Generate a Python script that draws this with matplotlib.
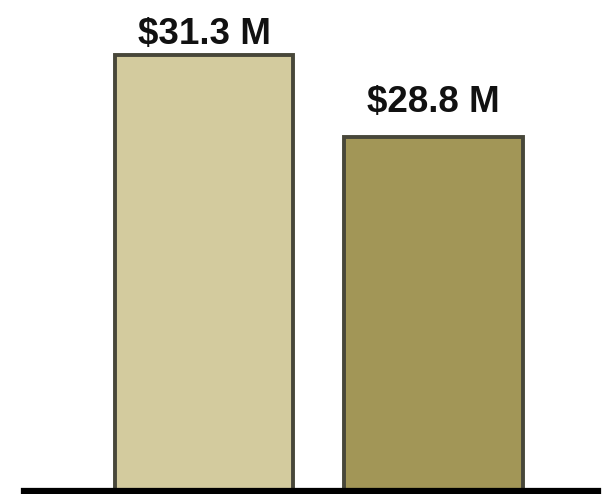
import matplotlib
matplotlib.use("Agg")
import matplotlib.pyplot as plt

# Revenue comparison, two periods (in $ millions)
categories = ["Period 1", "Period 2"]
values = [31.3, 28.8]
labels = ["$31.3 M", "$28.8 M"]

bar_colors = ["#d3cb9e", "#a29657"]
label_offsets_px = [11, 25]

fig = plt.figure(figsize=(6.02, 4.94), dpi=100)
fig.patch.set_facecolor("white")
ax = fig.add_axes([0, 3 / 494, 1, 491 / 494])

x = list(range(len(categories)))
bars = ax.bar(x, values, width=0.776, color=bar_colors,
              edgecolor="#48473a", linewidth=2.8, zorder=2)

ax.set_xlim(-0.889, 1.734)
ax.set_ylim(18, 32.97)

for bar, val, lab, off in zip(bars, values, labels, label_offsets_px):
    ax.annotate(lab, xy=(bar.get_x() + bar.get_width() / 2, val),
                xytext=(0, off), textcoords="offset pixels",
                ha="center", va="baseline", fontsize=26.5, fontweight="bold",
                family=["Liberation Sans", "DejaVu Sans"], color="#111111")

# baseline rule
ax.axhline(18, xmin=24 / 602, xmax=598 / 602, color="black", linewidth=4.5,
           zorder=3, clip_on=False)

ax.axis("off")
fig.savefig("out.png", dpi=100, facecolor="white")
